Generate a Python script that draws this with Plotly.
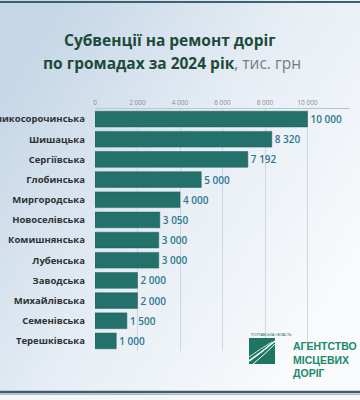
import base64
import plotly.graph_objects as go

# ---- data ----
communities = ["Великосорочинська", "Шишацька", "Сергіївська", "Глобинська",
               "Миргородська", "Новоселівська", "Комишнянська", "Лубенська",
               "Заводська", "Михайлівська", "Семенівська", "Терешківська"]
amounts = [10000, 8320, 7192, 5000, 4000, 3050, 3000, 3000, 2000, 2000, 1500, 1000]
tick_vals = [0, 2000, 4000, 6000, 8000, 10000, 12000]
tick_text = ["0", "2 000", "4 000", "6 000", "8 000", "10 000", "12 000"]

W, H = 360, 400
ML, MR, MT, MB = 95, 10, 109, 49
PW, PH = W - ML - MR, H - MT - MB


def px(x):
    return (x - ML) / PW


def py(y):
    return (H - MB - y) / PH


fig = go.Figure(go.Bar(
    x=amounts, y=communities, orientation="h",
    marker=dict(color="#24706b", line=dict(color="#1d5e5a", width=0.5)),
    text=[f"{v:,}".replace(",", " ") for v in amounts],
    textposition="outside", cliponaxis=False,
    textfont=dict(family="Open Sans", size=10, color="#2b7890", weight=600),
    hoverinfo="skip",
))

svg = f'''<svg xmlns="http://www.w3.org/2000/svg" width="{W}" height="{H}" viewBox="0 0 {W} {H}" preserveAspectRatio="none">
<defs><linearGradient id="g" x1="0" y1="0.25" x2="0.85" y2="0.85">
<stop offset="0" stop-color="#c6d7e7"/><stop offset="0.5" stop-color="#e6edf4"/><stop offset="1" stop-color="#f8fafc"/>
</linearGradient></defs><rect width="{W}" height="{H}" fill="url(#g)"/></svg>'''
src = "data:image/svg+xml;base64," + base64.b64encode(svg.encode()).decode()

shapes = [
    dict(type="line", xref="paper", yref="paper", x0=px(0), x1=px(W), y0=py(2), y1=py(2),
         line=dict(color="#3f6070", width=2)),
    dict(type="rect", xref="paper", yref="paper", x0=px(0), x1=px(W), y0=py(394), y1=py(400),
         fillcolor="#f4f6f8", line=dict(width=0)),
    dict(type="line", xref="paper", yref="paper", x0=px(0), x1=px(W), y0=py(392), y1=py(392),
         line=dict(color="#3d5d6b", width=2.5)),
    dict(type="line", xref="paper", yref="paper", x0=px(0), x1=px(W), y0=py(394.5), y1=py(394.5),
         line=dict(color="#a9bcc6", width=1)),
    # logo square
    dict(type="rect", xref="paper", yref="paper", x0=px(249), x1=px(275), y0=py(338), y1=py(364),
         fillcolor="#1d7562", line=dict(width=0)),
]
# white streaks of the road in the logo
for (ax, ay, bx, by, cx, cy, w) in [(249, 361, 262, 352, 275, 341, 1.6),
                                    (253, 364, 264, 355, 275, 344, 1.0),
                                    (249, 357, 260, 349, 272, 342, 0.8)]:
    shapes.append(dict(type="path", xref="paper", yref="paper",
                       path=f"M {px(ax)},{py(ay)} Q {px(bx)},{py(by)} {px(cx)},{py(cy)}",
                       line=dict(color="white", width=w)))

annotations = [
    dict(text="<b>Субвенції на ремонт доріг</b>", x=px(170), y=py(40), xref="paper", yref="paper",
         showarrow=False, font=dict(family="Open Sans", size=15.5, color="#1e4a3a"), xanchor="center", yanchor="middle"),
    dict(text="<b>по громадах за 2024 рік</b><span style='color:#7a7a7a'>, тис. грн</span>",
         x=px(172), y=py(63), xref="paper", yref="paper", showarrow=False,
         font=dict(family="Open Sans", size=15.5, color="#1e4a3a"), xanchor="center", yanchor="middle"),
    dict(text="ПОЛТАВСЬКА ОБЛАСТЬ", x=px(249), y=py(335), xref="paper", yref="paper", showarrow=False,
         font=dict(family="Liberation Sans", size=3.5, color="#2a6a5a"), xanchor="left", yanchor="middle"),
    dict(text="<b>АГЕНТСТВО<br>МІСЦЕВИХ<br>ДОРІГ</b>", x=px(291), y=py(338), xref="paper", yref="paper",
         showarrow=False, align="left",
         font=dict(family="Liberation Sans", size=10.5, color="#20896b"), xanchor="left", yanchor="top"),
]

fig.update_layout(
    width=W, height=H,
    margin=dict(l=ML, r=MR, t=MT, b=MB, pad=0),
    template="none",
    paper_bgcolor="#eef3f7", plot_bgcolor="rgba(0,0,0,0)",
    showlegend=False, bargap=0.22,
    separators=", ",
    images=[dict(source=src, xref="paper", yref="paper", x=px(0), y=py(0),
                 sizex=W / PW, sizey=H / PH, sizing="stretch", layer="below",
                 xanchor="left", yanchor="top")],
    shapes=shapes, annotations=annotations,
    xaxis=dict(range=[0, 12000], side="top", tickvals=tick_vals, ticktext=tick_text,
               tickfont=dict(family="Open Sans", size=6.5, color="#8a8f94"),
               showgrid=True, gridcolor="rgba(190,204,218,0.7)", gridwidth=1,
               showline=True, linecolor="#b8c6d2", linewidth=1,
               ticks="", zeroline=False, automargin=False, fixedrange=True),
    yaxis=dict(autorange="reversed", tickfont=dict(family="Open Sans", size=9.5, color="#2e3235", weight="bold"),
               showgrid=False, showline=False, ticks="", automargin=False,
               ticklabelstandoff=9, fixedrange=True),
)

fig.write_html("out.html", config={"displayModeBar": False},
               post_script="document.body.style.margin='0';document.body.style.overflow='hidden';")
